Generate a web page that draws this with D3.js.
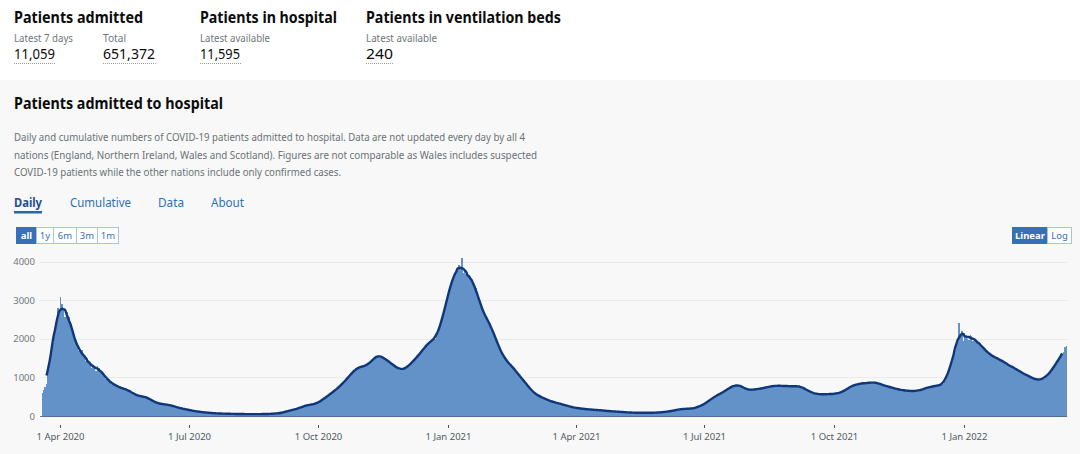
<!DOCTYPE html>
<html>
<head>
<meta charset="utf-8">
<script src="https://cdn.jsdelivr.net/npm/d3@7"></script>
<style>
  body { margin: 0; background: #fff; }
  svg { display: block; font-family: "Noto Sans", sans-serif; }
</style>
</head>
<body>
<svg id="page" width="1080" height="454"></svg>
<script>
// daily admissions, one row per week, first day 19 Mar 2020
const firstDay = '2020-03-19'
const admissions = [
  590, 680, 760, 830, 1250, 1500, 1720,
  1780, 1900, 2250, 2550, 2800, 2650, 3080,
  2900, 2750, 2560, 2720, 2680, 2560, 2380,
  2250, 2050, 1980, 1830, 1800, 1680, 1690,
  1700, 1540, 1530, 1420, 1490, 1380, 1340,
  1250, 1310, 1260, 1170, 1290, 1230, 1170,
  1160, 1080, 1050, 970, 970, 910, 890,
  860, 830, 780, 810, 780, 750, 745,
  730, 700, 680, 720, 680, 650, 655,
  630, 575, 565, 535, 555, 515, 510,
  520, 505, 480, 510, 480, 465, 450,
  425, 385, 375, 345, 345, 325, 322,
  325, 305, 302, 290, 295, 298, 280,
  282, 268, 252, 238, 232, 222, 212,
  200, 195, 180, 170, 175, 165, 160,
  145, 140, 130, 125, 120, 118, 110,
  105, 100, 95, 92, 90, 88, 85,
  80, 75, 72, 70, 68, 66, 65,
  64, 63, 62, 60, 61, 58, 57,
  56, 55, 54, 55, 53, 52, 52,
  52, 50, 51, 49, 50, 48, 50,
  49, 48, 47, 50, 48, 47, 49,
  50, 49, 51, 52, 50, 52, 53,
  54, 56, 58, 60, 62, 64, 68,
  75, 82, 90, 100, 108, 118, 128,
  140, 150, 155, 165, 175, 185, 195,
  210, 225, 240, 255, 265, 280, 285,
  290, 300, 295, 305, 310, 320, 335,
  360, 390, 420, 440, 470, 495, 520,
  540, 570, 600, 640, 660, 690, 720,
  740, 780, 820, 860, 900, 940, 980,
  1020, 1060, 1100, 1150, 1190, 1230, 1250,
  1260, 1240, 1290, 1280, 1300, 1320, 1310,
  1340, 1380, 1420, 1460, 1500, 1540, 1560,
  1590, 1560, 1540, 1520, 1490, 1470, 1440,
  1420, 1400, 1360, 1330, 1300, 1280, 1260,
  1230, 1200, 1180, 1210, 1220, 1240, 1260,
  1290, 1320, 1360, 1400, 1440, 1480, 1520,
  1560, 1600, 1650, 1700, 1740, 1790, 1830,
  1880, 1910, 1940, 1960, 1990, 2000, 2060,
  2150, 2250, 2380, 2500, 2650, 2800, 2950,
  3100, 3250, 3400, 3520, 3620, 3700, 3760,
  3800, 3900, 3850, 4100, 3700, 3750, 3680,
  3720, 3600, 3590, 3500, 3470, 3380, 3310,
  3150, 3000, 2900, 2800, 2700, 2650, 2550,
  2480, 2420, 2380, 2300, 2200, 2100, 2000,
  1900, 1800, 1720, 1650, 1580, 1500, 1450,
  1420, 1380, 1340, 1300, 1260, 1220, 1180,
  1130, 1080, 1030, 990, 950, 900, 860,
  820, 770, 720, 680, 640, 600, 570,
  550, 530, 510, 500, 480, 460, 440,
  430, 410, 400, 390, 370, 360, 350,
  345, 335, 325, 310, 300, 290, 280,
  270, 260, 250, 240, 230, 225, 215,
  210, 205, 200, 195, 190, 185, 180,
  178, 175, 170, 168, 165, 162, 160,
  158, 155, 150, 148, 145, 140, 138,
  135, 130, 128, 125, 122, 120, 118,
  115, 112, 110, 108, 105, 102, 100,
  98, 95, 92, 90, 88, 86, 85,
  85, 84, 86, 83, 85, 84, 85,
  84, 86, 85, 83, 84, 86, 85,
  86, 88, 90, 92, 95, 98, 102,
  108, 112, 118, 122, 128, 135, 140,
  150, 160, 165, 172, 178, 182, 185,
  186, 188, 190, 189, 191, 192, 195,
  205, 220, 235, 250, 265, 280, 295,
  310, 340, 370, 400, 430, 450, 480,
  500, 520, 540, 560, 580, 600, 620,
  640, 660, 690, 720, 740, 760, 775,
  790, 800, 810, 800, 790, 770, 750,
  720, 700, 680, 670, 675, 680, 685,
  690, 685, 695, 700, 705, 710, 720,
  730, 740, 750, 755, 760, 770, 776,
  780, 785, 790, 780, 775, 780, 790,
  780, 770, 775, 780, 770, 765, 775,
  770, 765, 760, 775, 790, 760, 740,
  720, 700, 680, 660, 640, 620, 600,
  590, 580, 570, 565, 570, 565, 560,
  560, 565, 570, 565, 560, 570, 575,
  570, 575, 580, 590, 600, 610, 620,
  630, 650, 680, 710, 740, 760, 780,
  790, 800, 810, 820, 830, 840, 845,
  850, 845, 860, 855, 850, 860, 870,
  880, 870, 865, 860, 850, 830, 810,
  800, 790, 780, 770, 760, 750, 740,
  730, 720, 710, 700, 690, 680, 675,
  670, 665, 660, 655, 650, 650, 648,
  648, 646, 647, 650, 655, 665, 680,
  690, 700, 715, 725, 740, 750, 760,
  765, 770, 780, 785, 790, 795, 800,
  810, 830, 900, 1000, 1100, 1200, 1300,
  1400, 1550, 1700, 1850, 2000, 2400, 2100,
  2200, 1950, 2150, 2050, 2000, 1980, 2100,
  2080, 1950, 2000, 1960, 1900, 1860, 1880,
  1820, 1780, 1720, 1680, 1640, 1610, 1580,
  1600, 1560, 1520, 1500, 1480, 1470, 1460,
  1460, 1420, 1390, 1360, 1340, 1320, 1300,
  1290, 1260, 1240, 1230, 1210, 1180, 1150,
  1130, 1110, 1090, 1080, 1060, 1040, 1020,
  1000, 980, 960, 950, 940, 930, 940,
  945, 955, 970, 1000, 1040, 1080, 1120,
  1150, 1200, 1260, 1320, 1380, 1440, 1500,
  1560, 1600, 1650, 1780, 1820
]

const yTicks = [0, 1000, 2000, 3000, 4000]
const xTickDates = ['2020-04-01', '2020-07-01', '2020-10-01', '2021-01-01', '2021-04-01', '2021-07-01', '2021-10-01', '2022-01-01']
const xTickLabels = ['1 Apr 2020', '1 Jul 2020', '1 Oct 2020', '1 Jan 2021', '1 Apr 2021', '1 Jul 2021', '1 Oct 2021', '1 Jan 2022']

const headlineTitles = ['Patients admitted', 'Patients in hospital', 'Patients in ventilation beds']
const headlineLabels = ['Latest 7 days', 'Total', 'Latest available', 'Latest available']
const headlineValues = ['11,059', '651,372', '11,595', '240']
const rangeButtons = ['all', '1y', '6m', '3m', '1m']
const scaleButtons = ['Linear', 'Log']
const tabs = ['Daily', 'Cumulative', 'Data', 'About']
const descLines = [
  'Daily and cumulative numbers of COVID-19 patients admitted to hospital. Data are not updated every day by all 4',
  'nations (England, Northern Ireland, Wales and Scotland). Figures are not comparable as Wales includes suspected',
  'COVID-19 patients while the other nations include only confirmed cases.'
]

let svg = d3.select('#page')
let parse = d3.utcParse('%Y-%m-%d')

// page backgrounds
svg.append('rect').attr('width', 1080).attr('height', 80).attr('fill', '#ffffff')
svg.append('rect').attr('y', 80).attr('width', 1080).attr('height', 374).attr('fill', '#f8f8f8')

// headline numbers
let titleX = [14, 200, 366]
let titleW = [129, 137, 195]
headlineTitles.forEach((t, i) => {
    svg.append('text').attr('x', titleX[i]).attr('y', 23)
        .attr('font-size', 16).attr('font-weight', 700).attr('fill', '#0b0c0c')
        .attr('textLength', titleW[i]).attr('lengthAdjust', 'spacingAndGlyphs')
        .text(t)
})
let labelX = [14, 103, 200, 366]
let labelW = [59, 23, 70, 71]
let valueW = [41, 52, 40, 27]
headlineLabels.forEach((t, i) => {
    svg.append('text').attr('x', labelX[i]).attr('y', 42)
        .attr('font-size', 11).attr('fill', '#6f777b')
        .attr('textLength', labelW[i]).attr('lengthAdjust', 'spacingAndGlyphs')
        .text(t)
    svg.append('text').attr('x', labelX[i]).attr('y', 59)
        .attr('font-size', 15).attr('fill', '#0b0c0c')
        .attr('textLength', valueW[i]).attr('lengthAdjust', 'spacingAndGlyphs')
        .text(headlineValues[i])
    svg.append('line')
        .attr('x1', labelX[i]).attr('x2', labelX[i] + valueW[i] + 1)
        .attr('y1', 63.5).attr('y2', 63.5)
        .attr('stroke', '#9a9fa3').attr('stroke-dasharray', '1,1')
})

// card heading and description
svg.append('text').attr('x', 14).attr('y', 109)
    .attr('font-size', 16).attr('font-weight', 700).attr('fill', '#0b0c0c')
    .attr('textLength', 209).attr('lengthAdjust', 'spacingAndGlyphs')
    .text('Patients admitted to hospital')

let descW = [511, 523, 327]
descLines.forEach((line, i) => {
    svg.append('text').attr('x', 14).attr('y', 141 + i * 17.5)
        .attr('font-size', 11).attr('fill', '#6a7276')
        .attr('textLength', descW[i]).attr('lengthAdjust', 'spacingAndGlyphs')
        .text(line)
})

// tabs
let tabX = [14, 70, 158, 211]
let tabW = [28, 61, 26, 33]
tabs.forEach((t, i) => {
    svg.append('text').attr('x', tabX[i]).attr('y', 207)
        .attr('font-size', 13).attr('font-weight', i == 0 ? 700 : 400)
        .attr('fill', i == 0 ? '#1d4f91' : '#2f6fb5')
        .attr('textLength', tabW[i]).attr('lengthAdjust', 'spacingAndGlyphs')
        .text(t)
})
svg.append('rect').attr('x', 14).attr('y', 211).attr('width', 28).attr('height', 2.5).attr('fill', '#2b66ad')

// range buttons
let btnEdges = [16, 36, 53, 76, 97, 118]
let btn = svg.append('g')
rangeButtons.forEach((b, i) => {
    btn.append('rect')
        .attr('x', btnEdges[i] + 0.5).attr('y', 227.5)
        .attr('width', btnEdges[i + 1] - btnEdges[i]).attr('height', 16)
        .attr('fill', i == 0 ? '#3570b8' : '#ffffff')
        .attr('stroke', i == 0 ? '#3570b8' : '#a9c4e2')
    btn.append('text')
        .attr('x', (btnEdges[i] + btnEdges[i + 1]) / 2 + 0.5).attr('y', 239)
        .attr('text-anchor', 'middle').attr('font-size', 9.5)
        .attr('font-weight', i == 0 ? 700 : 400)
        .attr('fill', i == 0 ? '#ffffff' : '#3570b8')
        .text(b)
})
let scaleEdges = [1012, 1047, 1071]
scaleButtons.forEach((b, i) => {
    btn.append('rect')
        .attr('x', scaleEdges[i] + 0.5).attr('y', 227.5)
        .attr('width', scaleEdges[i + 1] - scaleEdges[i]).attr('height', 16)
        .attr('fill', i == 0 ? '#3570b8' : '#ffffff')
        .attr('stroke', i == 0 ? '#3570b8' : '#a9c4e2')
    btn.append('text')
        .attr('x', (scaleEdges[i] + scaleEdges[i + 1]) / 2 + 0.5).attr('y', 239)
        .attr('text-anchor', 'middle').attr('font-size', 9.5)
        .attr('font-weight', i == 0 ? 700 : 400)
        .attr('fill', i == 0 ? '#ffffff' : '#3570b8')
        .text(b)
})

// chart
let start = parse(firstDay)
let days = admissions.map((v, i) => d3.utcDay.offset(start, i))
let n = admissions.length

let x = d3.scaleUtc()
    .domain([parse('2020-04-01'), parse('2022-01-01')])
    .range([60, 964])
let y = d3.scaleLinear()
    .domain([0, 4000])
    .range([416, 261.5])

let dayW = x(parse('2020-04-02')) - x(parse('2020-04-01'))
let plotLeft = x(start) - 1.5
let plotRight = x(days[n - 1]) + dayW

let grid = svg.append('g')
grid.selectAll('line')
    .data(yTicks.slice(1))
    .enter()
    .append('line')
    .attr('x1', plotLeft).attr('x2', plotRight)
    .attr('y1', (t) => Math.round(y(t)) + 0.5)
    .attr('y2', (t) => Math.round(y(t)) + 0.5)
    .attr('stroke', '#ebebeb')

svg.append('g')
    .selectAll('text')
    .data(yTicks)
    .enter()
    .append('text')
    .attr('x', 35)
    .attr('y', (t) => y(t) + 3.5)
    .attr('text-anchor', 'end')
    .attr('font-size', 9.5)
    .attr('fill', '#6f777b')
    .text((t) => t)

svg.append('g')
    .attr('id', 'bars')
    .attr('shape-rendering', 'crispEdges')
    .selectAll('rect')
    .data(admissions)
    .enter()
    .append('rect')
    .attr('x', (v, i) => x(days[i]))
    .attr('width', dayW)
    .attr('y', (v) => y(v))
    .attr('height', (v) => y(0) - y(v))
    .attr('fill', '#6292c8')

svg.append('line')
    .attr('x1', plotLeft).attr('x2', plotRight)
    .attr('y1', 416.5).attr('y2', 416.5)
    .attr('stroke', '#4f6f98').attr('stroke-width', 1)

// 7 day centred average
let avg = admissions.map((v, i) => {
    if (i < 3 || i > n - 4) return null
    return d3.mean(admissions.slice(i - 3, i + 4))
})
let avgLine = d3.line()
    .defined((v) => v != null)
    .x((v, i) => x(days[i]) + dayW / 2)
    .y((v) => y(v))
    .curve(d3.curveMonotoneX)
svg.append('path')
    .datum(avg)
    .attr('d', avgLine)
    .attr('fill', 'none')
    .attr('stroke', '#10377a')
    .attr('stroke-width', 2.4)
    .attr('stroke-linejoin', 'round')

// x axis ticks
let xt = svg.append('g')
xTickDates.forEach((d, i) => {
    let px = Math.round(x(parse(d))) + 0.5
    xt.append('line')
        .attr('x1', px).attr('x2', px)
        .attr('y1', 425).attr('y2', 428)
        .attr('stroke', '#555')
    xt.append('text')
        .attr('x', px).attr('y', 439.5)
        .attr('text-anchor', 'middle')
        .attr('font-size', 9.5)
        .attr('fill', '#505a5f')
        .text(xTickLabels[i])
})
</script>
</body>
</html>
